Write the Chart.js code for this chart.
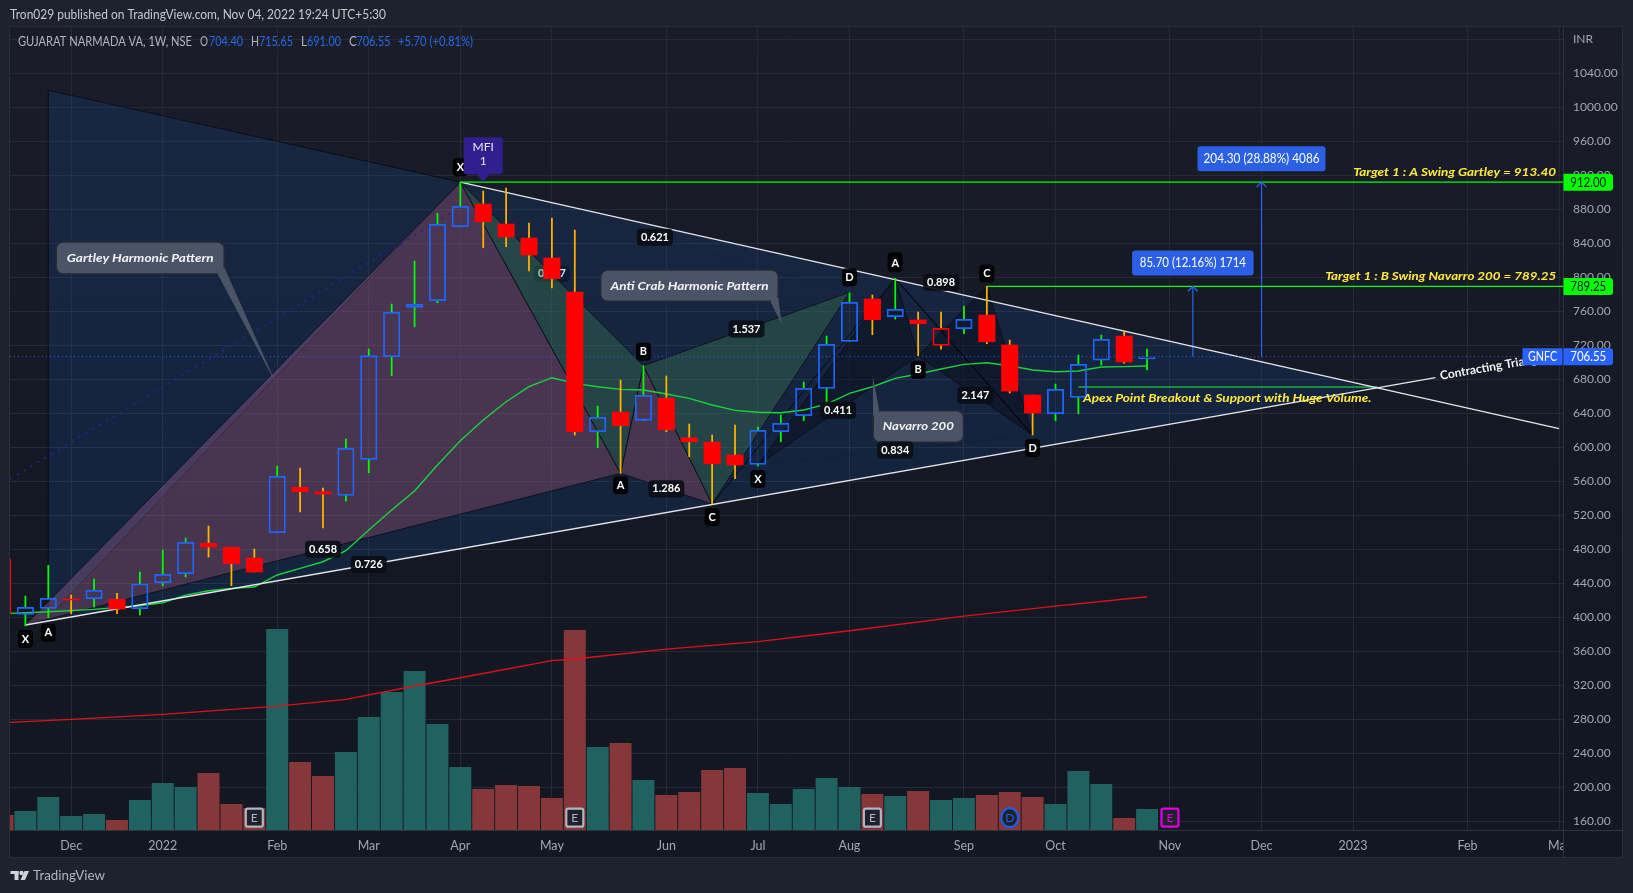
<!DOCTYPE html>
<html>
<head>
<meta charset="utf-8">
<title>GNFC 1W</title>
<style>
  html, body { margin: 0; padding: 0; background: #1e222d; }
  canvas { display: block; }
</style>
<script src="https://cdn.jsdelivr.net/npm/chart.js@4/dist/chart.umd.min.js"></script>
</head>
<body>
<canvas id="chart" width="1633" height="893" style="width:1633px;height:893px"></canvas>
<script>
// bar numbers: 0 is the first whole candle on the left
const firstBar = -1;
const opens = [468.6, 403.5, 410.6, 421.5, 421.9, 421.2, 410.1, 440.7, 451.3, 487.1, 482.4, 469.8, 499.5, 553, 547.8, 543.5, 585.9, 706.6, 764.7, 772.5, 859.5, 886.2, 862.7, 846.2, 822.7, 782.7, 618.4, 641.5, 631.8, 658, 611.3, 606.2, 590.9, 580, 618.4, 637.2, 669.4, 724.7, 774.5, 753.6, 749.8, 720, 739.5, 755.6, 720.4, 661.5, 639.5, 658.8, 702.4, 730.9, 704.4];
const closes = [403.9, 411.8, 422.4, 420.5, 431.8, 409.8, 439.5, 450.6, 488.2, 482.7, 463.1, 453.3, 565.9, 547.8, 545.1, 598.8, 707.8, 758.8, 768.2, 862.4, 883.5, 865.4, 847.4, 826.2, 798.4, 618.4, 635.3, 625.4, 661.2, 620.7, 606.6, 580.7, 579.2, 620, 628.2, 669.4, 721.2, 770.6, 750.1, 762.4, 745.4, 740, 750.6, 724.2, 666.2, 640.4, 668.2, 697.6, 727.1, 700.4, 706.55];
const highs = [468.6, 425.1, 461.2, 426.2, 445.1, 428.2, 453.3, 479.2, 493.3, 507.4, 482.4, 480.4, 578, 575.6, 552.1, 609.8, 715.6, 768.6, 819.2, 875.3, 912, 901.5, 905.1, 863.9, 869.8, 855.6, 648.6, 679.2, 696, 683.9, 627.4, 614.5, 626.2, 623.9, 638, 676.8, 730.9, 781.9, 779.2, 798.8, 759.2, 759.2, 766.2, 789.25, 726.2, 661.5, 674.5, 708.6, 732.1, 736.8, 715.65];
const lows = [403.9, 389.8, 399.5, 404.2, 412.1, 404.2, 402.7, 437.2, 447.4, 470.9, 437.2, 453.3, 499.5, 523.9, 505.1, 536.8, 570.1, 684.2, 741.9, 770.1, 859.5, 834.8, 836, 807.4, 787.4, 614.5, 599.5, 569.4, 631.8, 618.4, 588.9, 533.3, 563.1, 578, 606.6, 631.3, 643.9, 724.7, 732.5, 750.9, 707.8, 715.6, 733.6, 721.9, 663.9, 614.5, 631.3, 639.5, 696.8, 698.8, 691];

// volume, in the relative units of the overlay axis
const volumes = [15, 19, 33, 14, 16, 10, 30, 47, 43, 57, 26, 22, 201, 68, 54, 78, 113, 138, 159, 106, 63, 41, 45, 44, 32, 200, 83, 87, 50, 35, 38, 60, 62, 37, 26, 41, 52, 43, 36, 34, 39, 30, 32, 35, 38, 33, 26, 59, 46, 12, 21];
const volumeSide = 'dttttdtttdddtddttttttdddddtdtddddtttttdtdttdddtttdt';

const emaBars = [-0.67, 0, 1, 3, 5, 6, 7, 8, 9, 10, 11, 12, 13, 14, 15, 16, 17, 18, 19, 20, 21, 22, 23, 24, 25, 26, 27, 28, 29, 30, 31, 32, 33, 34, 35, 36, 37, 38, 39, 40, 41, 42, 43, 44, 45, 46, 47, 48, 49];
const emaValues = [404.7, 405.4, 406.6, 409.4, 413.6, 417.2, 426.2, 431.3, 434.1, 435.6, 449.8, 457.6, 465.4, 478.4, 502.7, 526.2, 548.6, 579.2, 607.8, 632.1, 653.6, 671.3, 681.9, 675.3, 671.3, 668.2, 667.4, 662.7, 657.6, 649.8, 643.5, 641.2, 640.7, 643.9, 650.9, 663.5, 671.3, 681.2, 686.2, 692.1, 697.6, 699.5, 696, 690.9, 689, 689.8, 694.5, 694.9, 695.6];

const smaBars = [-0.67, 2, 6, 11, 14, 17, 19, 23, 24, 28, 32, 36, 41, 45, 49];
const smaValues = [276.5, 280, 285.9, 295.6, 303.5, 319.2, 328.9, 349, 351, 362.7, 371.3, 384.2, 401.5, 413.3, 424.2];

const timeTicks = [2, 6, 11, 15, 19, 23, 28, 32, 36, 41, 45, 50, 54, 58, 63, 67];
const timeLabels = ['Dec', '2022', 'Feb', 'Mar', 'Apr', 'May', 'Jun', 'Jul', 'Aug', 'Sep', 'Oct', 'Nov', 'Dec', '2023', 'Feb', 'Mar'];
const priceTicks = [160, 200, 240, 280, 320, 360, 400, 440, 480, 520, 560, 600, 640, 680, 720, 760, 800, 840, 880, 920, 960, 1000, 1040, 1080];

const lastPrice = 706.55;
const targetA = 912;
const targetB = 789.25;

// pattern pivots as [bar, price]
const peak = [19, 912];
const xLow = [0, 391];
const gartleyLeftTop = [1, 1020];
const gartleyLeftLow = [1, 399.5];
const aLow = [26, 569.4];
const bHigh = [27, 696];
const cLow = [30, 533.3];
const dHigh = [36, 782.4];
const navX = [32, 579.2];
const navA = [38, 798.8];
const navB = [39, 707.8];
const navC = [42, 789.25];
const navD = [44, 614.5];
const apex = [59.07, 670.5];
const upperEnd = [67, 622];
const lowerEnd = [61.6, 682];
const dottedStart = [-0.67, 562.7];
const dottedEnd = [18.6, 875.6];

// ratio labels sit half way along the leg they measure
const ratioLegs = [
  ['0.658', xLow, aLow], ['0.726', xLow, cLow], ['1.286', aLow, cLow],
  ['1.537', bHigh, dHigh], ['0.621', peak, dHigh], ['0.411', navX, navB],
  ['0.834', navX, navD], ['0.898', navA, navC], ['2.147', navB, navD]
];
// pivot letters: letter, pivot, px offset from the pivot
const pivotLetters = [
  ['X', peak, -15], ['X', xLow, 14], ['A', gartleyLeftLow, 15], ['A', aLow, 12],
  ['B', bHigh, -14], ['C', cLow, 13], ['D', dHigh, -15], ['D', navA, -17], ['A', navA, -15],
  ['X', navX, 14], ['B', navB, 14], ['C', navC, -13], ['D', navD, 13]
];
const eventBars = [[10, 'E', 'earn'], [24, 'E', 'earn'], [37, 'E', 'earn'], [43, 'D', 'div'], [50, 'E', 'next']];

const GREY = '#b2b5be';
const BLUE = '#2962ff';
const FONT = 'Lato, "Liberation Sans", sans-serif';

const bars = opens.map((_, i) => i + firstBar);
const wickColors = closes.map((c, i) => (i === 0 || c >= closes[i - 1]) ? '#00ff00' : '#ffb300');
const bodyFill = closes.map((c, i) => c >= opens[i] ? 'rgba(0,0,0,0)' : '#ff0000');
const bodyBorder = closes.map((c, i) => c < opens[i] ? '#ff0000' : (c >= closes[i - 1] ? '#1f66ff' : '#ff0000'));

function polygon(points, color, order, edge) {
  return {
    type: 'line', data: points.concat([points[0]]).map(p => ({ x: p[0], y: p[1] })),
    fill: 'shape', backgroundColor: color, borderColor: edge || 'rgba(8,10,16,0.75)', borderWidth: 1,
    pointRadius: 0, tension: 0, order: order
  };
}
function path(points, color, width, order, dash) {
  return {
    type: 'line', data: points.map(p => ({ x: p[0], y: p[1] })), borderColor: color, borderWidth: width,
    borderDash: dash || [], pointRadius: 0, tension: 0, fill: false, order: order
  };
}
function zipped(xs, ys) { return xs.map((x, i) => [x, ys[i]]); }

const datasets = [
  // candles
  { type: 'bar', data: bars.map((x, i) => ({ x, y: [opens[i], closes[i]] })), backgroundColor: bodyFill, borderColor: bodyBorder,
    borderWidth: closes.map((c, i) => c >= opens[i] ? 1.1 : 0), borderSkipped: false, barThickness: 16.4, order: 1 },
  { type: 'bar', data: bars.map((x, i) => ({ x, y: [Math.max(opens[i], closes[i]), highs[i]] })), backgroundColor: wickColors, barThickness: 1.1, order: 2 },
  { type: 'bar', data: bars.map((x, i) => ({ x, y: [lows[i], Math.min(opens[i], closes[i])] })), backgroundColor: wickColors, barThickness: 1.1, order: 2 },
  // level and trend lines
  path([[-0.67, lastPrice], [67.17, lastPrice]], BLUE, 1, 3, [1, 3]),
  path([peak, [67.17, targetA]], '#00ff00', 1.3, 4),
  path([navC, [67.17, targetB]], '#00ff00', 1.3, 4),
  path([peak, upperEnd], '#e4e6ea', 1.4, 4),
  path([xLow, lowerEnd], '#e4e6ea', 1.4, 4),
  path([[46, 671], [59.07, 671]], '#1e8a3a', 2, 4),
  path([[51, lastPrice], [51, targetB]], BLUE, 1.2, 4),
  path([[54, lastPrice], [54, targetA]], BLUE, 1.2, 4),
  // moving averages
  path(zipped(emaBars, emaValues), '#19d33a', 1.4, 5),
  path(zipped(smaBars, smaValues), '#e0101a', 1.3, 5),
  path([dottedStart, dottedEnd], '#2c1f8f', 2, 6, [2, 6]),
  // navarro pattern, darker than the channel
  polygon([navX, navA, navB], 'rgba(6,10,20,0.42)', 10),
  polygon([navB, navC, navD], 'rgba(6,10,20,0.42)', 10),
  path([navA, navD], 'rgba(4,6,12,0.85)', 1.2, 9),
  path([cLow, navA], 'rgba(4,6,12,0.85)', 1, 9),
  path([peak, dHigh], 'rgba(4,6,12,0.5)', 1, 9, [1, 3]),
  path([navX, navD], 'rgba(4,6,12,0.6)', 1, 9, [1, 3]),
  path([navA, navC], 'rgba(4,6,12,0.6)', 1, 9, [1, 3]),
  path([navB, navD], 'rgba(4,6,12,0.6)', 1, 9, [1, 3]),
  // anti crab and gartley fills
  polygon([peak, aLow, bHigh], 'rgba(67,138,84,0.32)', 12),
  polygon([bHigh, cLow, dHigh], 'rgba(67,138,84,0.32)', 12),
  polygon([xLow, peak, aLow], 'rgba(163,84,115,0.36)', 13),
  polygon([aLow, bHigh, cLow], 'rgba(163,84,115,0.36)', 13),
  polygon([gartleyLeftTop, peak, gartleyLeftLow], 'rgba(26,97,208,0.16)', 14, 'rgba(4,6,12,0.7)'),
  polygon([peak, apex, xLow], 'rgba(26,97,208,0.16)', 14, 'rgba(0,0,0,0)'),
  // volume overlay
  { type: 'bar', yAxisID: 'v', data: bars.map((x, i) => ({ x, y: volumes[i] })),
    backgroundColor: bars.map((_, i) => volumeSide[i] === 't' ? '#1f625f' : '#85373a'), barPercentage: 0.96, categoryPercentage: 1, order: 20 }
];

function rounded(ctx, x, y, w, h, r) {
  ctx.beginPath();
  ctx.roundRect(x, y, w, h, r);
}
// fits text into the width it has in the picture
function fitText(ctx, text, x, y, width, align) {
  const measured = ctx.measureText(text).width;
  const k = width / measured;
  ctx.save();
  ctx.translate(align === 'right' ? x - width : align === 'center' ? x - width / 2 : x, y);
  ctx.scale(k, 1);
  ctx.textAlign = 'left';
  ctx.textBaseline = 'middle';
  ctx.fillText(text, 0, 0);
  ctx.restore();
}
function paneFill(ctx, area) {
  const g = ctx.createLinearGradient(0, area.top, 0, area.bottom);
  g.addColorStop(0, '#1a1d28');
  g.addColorStop(0.6, '#141822');
  g.addColorStop(1, '#131722');
  return g;
}
function callout(ctx, tip, box, tailA, tailB, text, textWidth) {
  ctx.fillStyle = '#4b5467';
  ctx.strokeStyle = '#262a35';
  ctx.lineWidth = 1.5;
  rounded(ctx, tip.x + box[0], tip.y + box[1], box[2], box[3], 7);
  ctx.fill();
  ctx.stroke();
  ctx.beginPath();
  ctx.moveTo(tip.x + tailA[0], tip.y + tailA[1]);
  ctx.lineTo(tip.x, tip.y);
  ctx.lineTo(tip.x + tailB[0], tip.y + tailB[1]);
  ctx.closePath();
  ctx.fill();
  ctx.fillStyle = '#f2f3f5';
  ctx.font = 'italic bold 12px ' + FONT;
  fitText(ctx, text, tip.x + box[0] + box[2] / 2, tip.y + box[1] + box[3] / 2, textWidth, 'center');
}
function tag(ctx, x, y, w, h, bg, fg, text, textWidth) {
  ctx.fillStyle = bg;
  ctx.beginPath();
  ctx.roundRect(x, y, w, h, [0, 3, 3, 0]);
  ctx.fill();
  ctx.fillStyle = fg;
  ctx.font = '12.5px ' + FONT;
  fitText(ctx, text, x + w / 2, y + h / 2 + 0.5, textWidth, 'center');
}

const drawings = {
  id: 'drawings',
  beforeDraw(chart) {
    const { ctx, chartArea: a } = chart;
    ctx.fillStyle = '#1e222d';
    ctx.fillRect(0, 0, chart.width, chart.height);
    ctx.fillStyle = paneFill(ctx, a);
    ctx.fillRect(a.left, a.top, 1622 - a.left, 857 - a.top);
    ctx.fillStyle = '#131722';
    ctx.fillRect(a.left, a.bottom, 1622 - a.left, 857 - a.bottom);
    ctx.strokeStyle = '#2a2e39';
    ctx.lineWidth = 1;
    ctx.strokeRect(a.left - 0.5, a.top - 0.5, 1622 - a.left + 1, 857 - a.top + 1);
  },
  beforeDatasetsDraw(chart) {
    // this ratio sits behind the May candle
    const { ctx, scales: { x, y } } = chart;
    const px = (x.getPixelForValue(peak[0]) + x.getPixelForValue(bHigh[0])) / 2;
    const py = (y.getPixelForValue(peak[1]) + y.getPixelForValue(bHigh[1])) / 2;
    ctx.fillStyle = 'rgba(10,13,20,0.9)';
    rounded(ctx, px - 18, py - 8, 36, 16, 4);
    ctx.fill();
    ctx.fillStyle = '#fff';
    ctx.font = 'bold 11px ' + FONT;
    fitText(ctx, '0.617', px, py, 28, 'center');
  },
  afterDatasetsDraw(chart) {
    const { ctx, chartArea: a, scales: { x, y, v } } = chart;
    const at = p => ({ x: x.getPixelForValue(p[0]), y: y.getPixelForValue(p[1]) });

    // axis pane over anything that ran past the plot edge
    ctx.fillStyle = paneFill(ctx, a);
    ctx.fillRect(a.right, a.top, 1622 - a.right, a.bottom - a.top);
    ctx.fillStyle = '#131722';
    ctx.fillRect(a.right, a.bottom, 1622 - a.right, 857 - a.bottom);
    ctx.strokeStyle = '#2f333e';
    ctx.lineWidth = 1;
    ctx.beginPath();
    ctx.moveTo(a.right + 0.5, a.top);
    ctx.lineTo(a.right + 0.5, 857);
    ctx.moveTo(a.left, a.bottom + 0.5);
    ctx.lineTo(1622, a.bottom + 0.5);
    ctx.stroke();

    // legend line
    const legendY = 41.5;
    ctx.font = '12.5px ' + FONT;
    ctx.fillStyle = GREY;
    fitText(ctx, 'GUJARAT NARMADA VA, 1W, NSE', 18, legendY, 174, 'left');
    [['O', 200, 8], ['H', 251, 8], ['L', 301, 6], ['C', 349, 8]].forEach(l => fitText(ctx, l[0], l[1], legendY, l[2], 'left'));
    ctx.fillStyle = '#2469e8';
    [['704.40', 209, 34], ['715.65', 259, 34], ['691.00', 307, 34], ['706.55', 356.5, 34], ['+5.70 (+0.81%)', 398, 75]].forEach(l => fitText(ctx, l[0], l[1], legendY, l[2], 'left'));

    // arrow heads and the move boxes above them
    [[51, targetB, '85.70 (12.16%) 1714', 121.5, 96], [54, targetA, '204.30 (28.88%) 4086', 128, 108]].forEach(m => {
      const tip = at([m[0], m[1]]);
      ctx.strokeStyle = BLUE;
      ctx.lineWidth = 1.2;
      ctx.beginPath();
      ctx.moveTo(tip.x - 5, tip.y + 5);
      ctx.lineTo(tip.x, tip.y);
      ctx.lineTo(tip.x + 5, tip.y + 5);
      ctx.stroke();
      ctx.fillStyle = '#2a5fe6';
      rounded(ctx, tip.x - m[3] / 2, tip.y - 36, m[3], 25, 3);
      ctx.fill();
      ctx.fillStyle = '#fff';
      ctx.font = '12.5px ' + FONT;
      fitText(ctx, m[2], tip.x, tip.y - 23, m[4] + (m[3] - m[4]) * 0.4, 'center');
    });

    // rotated trend line caption, the price tag hides its tail
    const cap = at([61.8, 684]);
    ctx.save();
    ctx.beginPath();
    ctx.rect(a.left, a.top, a.right - a.left, a.bottom - a.top);
    ctx.clip();
    ctx.translate(cap.x, cap.y);
    ctx.rotate(-0.172);
    ctx.fillStyle = '#f4f4f6';
    ctx.font = 'bold 12px ' + FONT;
    ctx.textBaseline = 'middle';
    ctx.textAlign = 'left';
    ctx.fillText('Contracting Triangle', 0, 0);
    ctx.restore();

    // yellow captions
    ctx.fillStyle = '#ffeb3b';
    ctx.font = 'italic bold 12px ' + FONT;
    const capA = at([66.87, targetA]);
    const capB = at([66.87, targetB]);
    const capC = at([46.2, 658]);
    fitText(ctx, 'Target 1 : A Swing Gartley = 913.40', capA.x, capA.y - 10.5, 203, 'right');
    fitText(ctx, 'Target 1 : B Swing Navarro 200 = 789.25', capB.x, capB.y - 10.5, 231, 'right');
    fitText(ctx, 'Apex Point Breakout & Support with Huge Volume.', capC.x, capC.y, 288.6, 'left');

    // callouts
    callout(ctx, at([11, 672.1]), [-221, -144, 168, 32], [-59.6, -112], [-53.2, -119.3], 'Gartley Harmonic Pattern', 147);
    callout(ctx, at([33.04, 745.1]), [-181, -54, 177.5, 31.3], [-11.4, -22.7], [-3.6, -27.3], 'Anti Crab Harmonic Pattern', 158);
    callout(ctx, at([37.02, 683.9]), [0.3, 34.7, 90.4, 31.6], [6.4, 34.7], [0.3, 40.7], 'Navarro 200', 71);

    // ratio labels
    ratioLegs.forEach(r => {
      const p = at([(r[1][0] + r[2][0]) / 2, (r[1][1] + r[2][1]) / 2]);
      ctx.fillStyle = 'rgba(10,13,20,0.9)';
      rounded(ctx, p.x - 18, p.y - 8.5, 36, 17, 4);
      ctx.fill();
      ctx.fillStyle = '#fff';
      ctx.font = 'bold 11px ' + FONT;
      fitText(ctx, r[0], p.x, p.y, 28, 'center');
    });

    // pivot letters
    pivotLetters.forEach(l => {
      const p = at(l[1]);
      ctx.fillStyle = 'rgba(0,0,0,0.92)';
      rounded(ctx, p.x - 7.5, p.y + l[2] - 9, 15, 18, 4);
      ctx.fill();
      ctx.fillStyle = '#fff';
      ctx.font = 'bold 11px ' + FONT;
      ctx.textAlign = 'center';
      ctx.textBaseline = 'middle';
      ctx.fillText(l[0], p.x, p.y + l[2]);
    });

    // MFI flag
    const flag = at([20, 912]);
    ctx.fillStyle = '#311e8f';
    ctx.beginPath();
    ctx.roundRect(flag.x - 19.5, flag.y - 45, 39, 37, 2);
    ctx.moveTo(flag.x - 6, flag.y - 8);
    ctx.lineTo(flag.x, flag.y);
    ctx.lineTo(flag.x + 6, flag.y - 8);
    ctx.fill();
    ctx.fillStyle = '#e6e6ee';
    ctx.font = '12px ' + FONT;
    ctx.textAlign = 'center';
    ctx.textBaseline = 'middle';
    ctx.fillText('MFI', flag.x, flag.y - 35);
    ctx.fillText('1', flag.x, flag.y - 21);

    // earnings and dividend markers on the time edge
    const eventY = v.getPixelForValue(12.3);
    eventBars.forEach(e => {
      const ex = x.getPixelForValue(e[0]);
      const line = e[2] === 'earn' ? '#b2b5be' : e[2] === 'div' ? '#1f5fe0' : '#e000e0';
      ctx.strokeStyle = line;
      ctx.lineWidth = 2.2;
      ctx.fillStyle = '#1e222d';
      ctx.beginPath();
      if (e[2] === 'div') ctx.ellipse(ex, eventY, 8.5, 9.5, 0, 0, Math.PI * 2);
      else ctx.roundRect(ex - 8.5, eventY - 9, 17, 18, 2);
      ctx.fill();
      ctx.stroke();
      ctx.fillStyle = line;
      ctx.font = '12px ' + FONT;
      ctx.textAlign = 'center';
      ctx.textBaseline = 'middle';
      ctx.fillText(e[1], ex, eventY + 0.5);
    });
  },
  afterDraw(chart) {
    const { ctx, chartArea: a, scales: { y } } = chart;
    // publish line and logo
    ctx.fillStyle = '#c6c8d0';
    ctx.font = '12.5px ' + FONT;
    fitText(ctx, 'Tron029 published on TradingView.com, Nov 04, 2022 19:24 UTC+5:30', 10, 14.5, 376, 'left');
    ctx.fillStyle = '#d1d4dc';
    ctx.fillRect(10.5, 871, 8, 3);
    ctx.fillRect(14.5, 871, 4, 9);
    ctx.beginPath();
    ctx.arc(21.5, 873, 2.2, 0, Math.PI * 2);
    ctx.fill();
    ctx.beginPath();
    ctx.moveTo(24.5, 871);
    ctx.lineTo(29, 871);
    ctx.lineTo(25, 880);
    ctx.lineTo(20.5, 880);
    ctx.closePath();
    ctx.fill();
    ctx.fillStyle = '#b2b5be';
    ctx.font = '14px ' + FONT;
    fitText(ctx, 'TradingView', 33, 875, 72, 'left');

    // price tags on the axis
    const left = a.right + 0.5;
    tag(ctx, left, y.getPixelForValue(targetA) - 8.5, 49.5, 17, '#00ff00', '#10141c', '912.00', 36);
    tag(ctx, left, y.getPixelForValue(targetB) - 8.5, 49.5, 17, '#00ff00', '#10141c', '789.25', 36);
    tag(ctx, left, y.getPixelForValue(lastPrice) - 8.5, 49.5, 17, BLUE, '#ffffff', '706.55', 36);
    ctx.fillStyle = BLUE;
    ctx.fillRect(left - 41, y.getPixelForValue(lastPrice) - 8.5, 40, 17);
    ctx.fillStyle = '#fff';
    ctx.font = '12.5px ' + FONT;
    fitText(ctx, 'GNFC', left - 21, y.getPixelForValue(lastPrice) + 0.5, 29, 'center');
  }
};

new Chart(document.getElementById('chart').getContext('2d'), {
  data: { datasets },
  plugins: [drawings],
  options: {
    responsive: false,
    animation: false,
    layout: { padding: { left: 10, top: 27, right: 11, bottom: 36 } },
    datasets: { bar: { grouped: false, categoryPercentage: 1 } },
    plugins: { legend: { display: false }, tooltip: { enabled: false } },
    scales: {
      x: {
        type: 'linear', min: -0.673, max: 67.17, offset: false,
        afterBuildTicks: axis => { axis.ticks = timeTicks.map(value => ({ value })); },
        afterFit: axis => { axis.height = 27; },
        grid: { color: '#262a35', drawTicks: false, offset: false },
        border: { display: false },
        ticks: {
          autoSkip: false, maxRotation: 0, padding: 8, color: '#a3a6af', font: { family: FONT, size: 12.5 },
          callback: value => timeLabels[timeTicks.indexOf(value)]
        }
      },
      y: {
        type: 'linear', position: 'right', min: 149.8, max: 1094.5,
        afterBuildTicks: axis => { axis.ticks = priceTicks.map(value => ({ value })); },
        afterFit: axis => { axis.width = 59; },
        grid: { color: '#262a35', drawTicks: false },
        border: { display: false },
        ticks: {
          z: 1, padding: 10, color: '#a3a6af', font: { family: FONT, size: 12 },
          callback: value => value === 1080 ? 'INR' : value.toFixed(2)
        }
      },
      v: { type: 'linear', display: false, min: 0, max: 803, grid: { display: false } }
    }
  }
});
</script>
</body>
</html>
